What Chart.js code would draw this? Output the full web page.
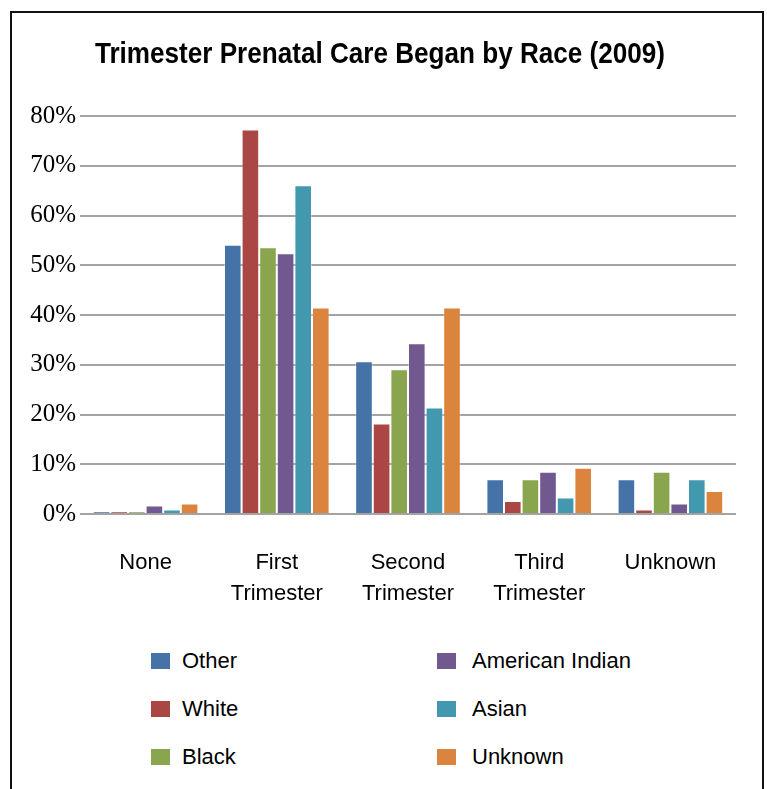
<!DOCTYPE html>
<html>
<head>
<meta charset="utf-8">
<script src="https://cdn.jsdelivr.net/npm/chart.js@4"></script>
<style>
    body { margin: 0; background: #fff; font-family: 'Liberation Sans', Arial, sans-serif; }
    .frame {
        position: absolute; left: 10px; top: 11px; width: 750px; height: 800px;
        border: 2px solid #111; border-bottom: none;
    }
    .title {
        position: absolute; left: 0; top: 35px; width: 760px; text-align: center;
        font-size: 30px; font-weight: bold; color: #000; line-height: 36px; white-space: nowrap;
        transform: scaleX(0.87); transform-origin: 380px 0;
    }
    .chart-box { position: absolute; left: 0; top: 0; width: 767px; height: 620px; }
    .legend { position: absolute; left: 0; top: 0; }
    .legend-item { position: absolute; font-size: 22px; color: #000; line-height: 26px; white-space: nowrap; }
    .legend-item .swatch { position: absolute; left: 0; top: 5px; width: 19px; height: 16px; }
    .legend-item .label { position: absolute; top: 0; }
</style>
</head>
<body>
<div class="frame"></div>
<div class="chart-box"><canvas id="prenatalChart"></canvas></div>
<div class="title">Trimester Prenatal Care Began by Race (2009)</div>
<div class="legend" id="legend"></div>

<script>
const categories = ['None', ['First', 'Trimester'], ['Second', 'Trimester'], ['Third', 'Trimester'], 'Unknown'];

// percent of births
const otherValues    = [0.5, 54.1, 30.7, 7.0, 7.0];
const whiteValues    = [0.5, 77.3, 18.2, 2.6, 0.9];
const blackValues    = [0.5, 53.6, 29.1, 7.0, 8.5];
const amIndianValues = [1.7, 52.4, 34.3, 8.5, 2.1];
const asianValues    = [0.9, 66.1, 21.4, 3.3, 7.0];
const unknownValues  = [2.1, 41.5, 41.5, 9.3, 4.6];

const seriesNames = ['Other', 'White', 'Black', 'American Indian', 'Asian', 'Unknown'];
const seriesColors = ['#4572A7', '#AA4643', '#89A54E', '#71588F', '#4198AF', '#DB843D'];
const seriesValues = [otherValues, whiteValues, blackValues, amIndianValues, asianValues, unknownValues];

const yTicks = [0, 10, 20, 30, 40, 50, 60, 70, 80];

const datasets = seriesNames.map((name, i) => ({
    label: name,
    data: seriesValues[i],
    backgroundColor: seriesColors[i],
    borderColor: 'rgba(255,255,255,0.35)',
    borderWidth: 1,
    categoryPercentage: 0.805,
    barPercentage: 1.0
}));

const ctx = document.getElementById('prenatalChart').getContext('2d');

new Chart(ctx, {
    type: 'bar',
    data: { labels: categories, datasets: datasets },
    options: {
        responsive: true,
        maintainAspectRatio: false,
        animation: false,
        layout: { padding: { left: 0, right: 31, top: 116, bottom: 0 } },
        plugins: {
            legend: { display: false },
            tooltip: { enabled: false },
            title: { display: false }
        },
        scales: {
            x: {
                grid: { display: false, drawTicks: false },
                border: { display: false },
                ticks: {
                    color: '#000',
                    font: { family: "'Liberation Sans', Arial, sans-serif", size: 22, lineHeight: 1.4 },
                    padding: 34,
                    maxRotation: 0,
                    autoSkip: false
                },
                afterFit: (scale) => { scale.height = 106; }
            },
            y: {
                min: 0,
                max: 80,
                afterBuildTicks: (scale) => { scale.ticks = yTicks.map(v => ({ value: v })); },
                grid: { color: '#a3a3a3', lineWidth: 2, drawTicks: false },
                border: { display: false },
                ticks: {
                    color: '#000',
                    font: { family: "'Liberation Serif', 'Times New Roman', serif", size: 25 },
                    padding: 4,
                    callback: (v) => v + '%'
                },
                afterFit: (scale) => { scale.width = 80; }
            }
        }
    }
});

// legend laid out in two columns like the original
const legendEl = document.getElementById('legend');
const legendCols = [151, 437];
const labelOffsets = [31, 35];
const legendRows = [648, 696, 744];
seriesNames.forEach((name, i) => {
    const col = Math.floor(i / 3);
    const row = i % 3;
    const item = document.createElement('div');
    item.className = 'legend-item';
    item.style.left = legendCols[col] + 'px';
    item.style.top = legendRows[row] + 'px';
    item.innerHTML = '<span class="swatch" style="background:' + seriesColors[i] + '"></span>' +
        '<span class="label" style="left:' + labelOffsets[col] + 'px">' + name + '</span>';
    legendEl.appendChild(item);
});
</script>
</body>
</html>
